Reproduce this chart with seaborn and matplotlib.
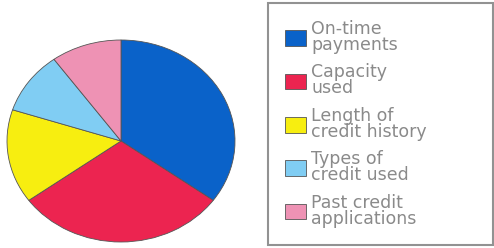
import matplotlib
matplotlib.use("Agg")
import matplotlib.pyplot as plt
import seaborn as sns

categories = ["On-time\npayments", "Capacity\nused", "Length of\ncredit history",
              "Types of\ncredit used", "Past credit\napplications"]
shares = [35, 30, 15, 10, 10]
colors = ["#0A62C9", "#EC2450", "#F7EE10", "#80CDF3", "#EE92B4"]

sns.set_theme(style="white")
plt.rcParams['font.family'] = ['DejaVu Sans']

fig = plt.figure(figsize=(4.94, 2.48), dpi=100)
ax = fig.add_axes([7/494, 6/248, 228/494, 202/248])
wedges, _ = ax.pie(shares, colors=colors, startangle=90, counterclock=False,
                   wedgeprops=dict(edgecolor="#555555", linewidth=0.6))
ax.set_aspect('auto')
ax.set_xlim(-1, 1)
ax.set_ylim(-1, 1)
ax.axis('off')

leg = fig.legend(wedges, categories, loc='upper left',
                 bbox_to_anchor=(268/494, 1 - 5/248, 225/494, 0.01),
                 bbox_transform=fig.transFigure, mode='expand',
                 frameon=True, fancybox=False,
                 fontsize=12.5, labelspacing=0.55, handlelength=1.2, handleheight=1.0,
                 handletextpad=0.3, borderpad=1.0, borderaxespad=0)
leg.get_frame().set_edgecolor("#777777")
leg.get_frame().set_linewidth(1.5)
for t in leg.get_texts():
    t.set_color("#8a8a8a")
    t.set_linespacing(0.85)

fig.savefig("out.png", dpi=100)
